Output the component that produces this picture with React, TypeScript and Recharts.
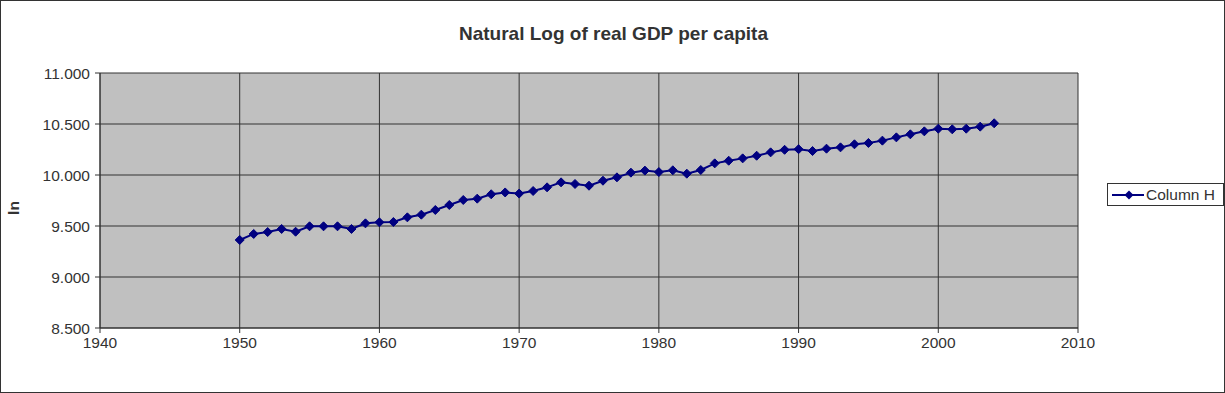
import React from "react";
import { CartesianGrid, Line, LineChart, XAxis, YAxis } from "recharts";

const years = [
  1950, 1951, 1952, 1953, 1954, 1955, 1956, 1957, 1958, 1959,
  1960, 1961, 1962, 1963, 1964, 1965, 1966, 1967, 1968, 1969,
  1970, 1971, 1972, 1973, 1974, 1975, 1976, 1977, 1978, 1979,
  1980, 1981, 1982, 1983, 1984, 1985, 1986, 1987, 1988, 1989,
  1990, 1991, 1992, 1993, 1994, 1995, 1996, 1997, 1998, 1999,
  2000, 2001, 2002, 2003, 2004,
];

const lnGdp = [
  9.363, 9.422, 9.441, 9.471, 9.444, 9.497, 9.497, 9.497, 9.471, 9.526,
  9.536, 9.539, 9.585, 9.611, 9.657, 9.706, 9.755, 9.768, 9.811, 9.829,
  9.818, 9.843, 9.879, 9.928, 9.912, 9.895, 9.944, 9.977, 10.023, 10.043,
  10.029, 10.046, 10.013, 10.049, 10.114, 10.140, 10.163, 10.189, 10.222, 10.247,
  10.253, 10.235, 10.258, 10.271, 10.301, 10.314, 10.337, 10.369, 10.399, 10.428,
  10.454, 10.448, 10.454, 10.474, 10.507,
];

const xTicks = [1940, 1950, 1960, 1970, 1980, 1990, 2000, 2010];
const yTicks = [8.5, 9.0, 9.5, 10.0, 10.5, 11.0];

const data = years.map((year, i) => ({ year, value: lnGdp[i] }));

const FONT = "'Liberation Sans', Arial, sans-serif";
const NAVY = "#000080";
const INK = "#333333";
const TICK_FONT = 15.5;

// diamond marker like the old spreadsheet charts
const Diamond = (props: any) => {
  const { cx, cy } = props;
  if (cx == null || cy == null) return null;
  const r = 4.5;
  return (
    <polygon
      points={`${cx},${cy - r} ${cx + r},${cy} ${cx},${cy + r} ${cx - r},${cy}`}
      fill={NAVY}
      stroke={NAVY}
    />
  );
};

const LegendBox = () => (
  <div
    style={{
      position: "absolute",
      left: 1106,
      top: 182,
      width: 115,
      height: 21,
      border: `1px solid ${INK}`,
      background: "#fff",
      display: "flex",
      alignItems: "center",
      fontSize: TICK_FONT,
      color: INK,
    }}
  >
    <svg width={38} height={21}>
      <line x1={4} y1={11} x2={36} y2={11} stroke={NAVY} strokeWidth={2} />
      <polygon points="21,6.5 25.5,11 21,15.5 16.5,11" fill={NAVY} />
    </svg>
    <span>Column H</span>
  </div>
);

export default function App() {
  return (
    <div
      style={{
        position: "absolute",
        left: 0,
        top: 0,
        width: 1225,
        height: 393,
        boxSizing: "border-box",
        border: `1px solid ${INK}`,
        background: "#fff",
        fontFamily: FONT,
      }}
    >
      <div
        style={{
          position: "absolute",
          left: 0,
          width: 1225,
          top: 22,
          textAlign: "center",
          fontSize: 19,
          fontWeight: "bold",
          color: INK,
        }}
      >
        Natural Log of real GDP per capita
      </div>
      <div
        style={{
          position: "absolute",
          left: 13,
          top: 207,
          transform: "translate(-50%, -50%) rotate(-90deg)",
          fontSize: TICK_FONT,
          fontWeight: "bold",
          color: INK,
        }}
      >
        ln
      </div>
      <div style={{ position: "absolute", left: -1, top: -1 }}>
        <LineChart
          width={1225}
          height={393}
          data={data}
          margin={{ top: 73, right: 147, bottom: 35, left: 0 }}
        >
          <CartesianGrid fill="#c0c0c0" stroke={INK} strokeOpacity={1} />
          <XAxis
            dataKey="year"
            type="number"
            domain={[1940, 2010]}
            ticks={xTicks}
            height={30}
            interval={0}
            stroke={INK}
            tickSize={5}
            tickMargin={4}
            tick={{ fill: INK, fontSize: TICK_FONT, fontFamily: FONT }}
          />
          <YAxis
            type="number"
            domain={[8.5, 11]}
            ticks={yTicks}
            width={100}
            interval={0}
            stroke={INK}
            tickSize={5}
            tickMargin={5}
            tickFormatter={(v: number) => v.toFixed(3)}
            tick={{ fill: INK, fontSize: TICK_FONT, fontFamily: FONT }}
          />
          <Line
            dataKey="value"
            name="Column H"
            stroke={NAVY}
            strokeWidth={2}
            dot={<Diamond />}
            activeDot={false}
            isAnimationActive={false}
          />
        </LineChart>
      </div>
      <LegendBox />
    </div>
  );
}
